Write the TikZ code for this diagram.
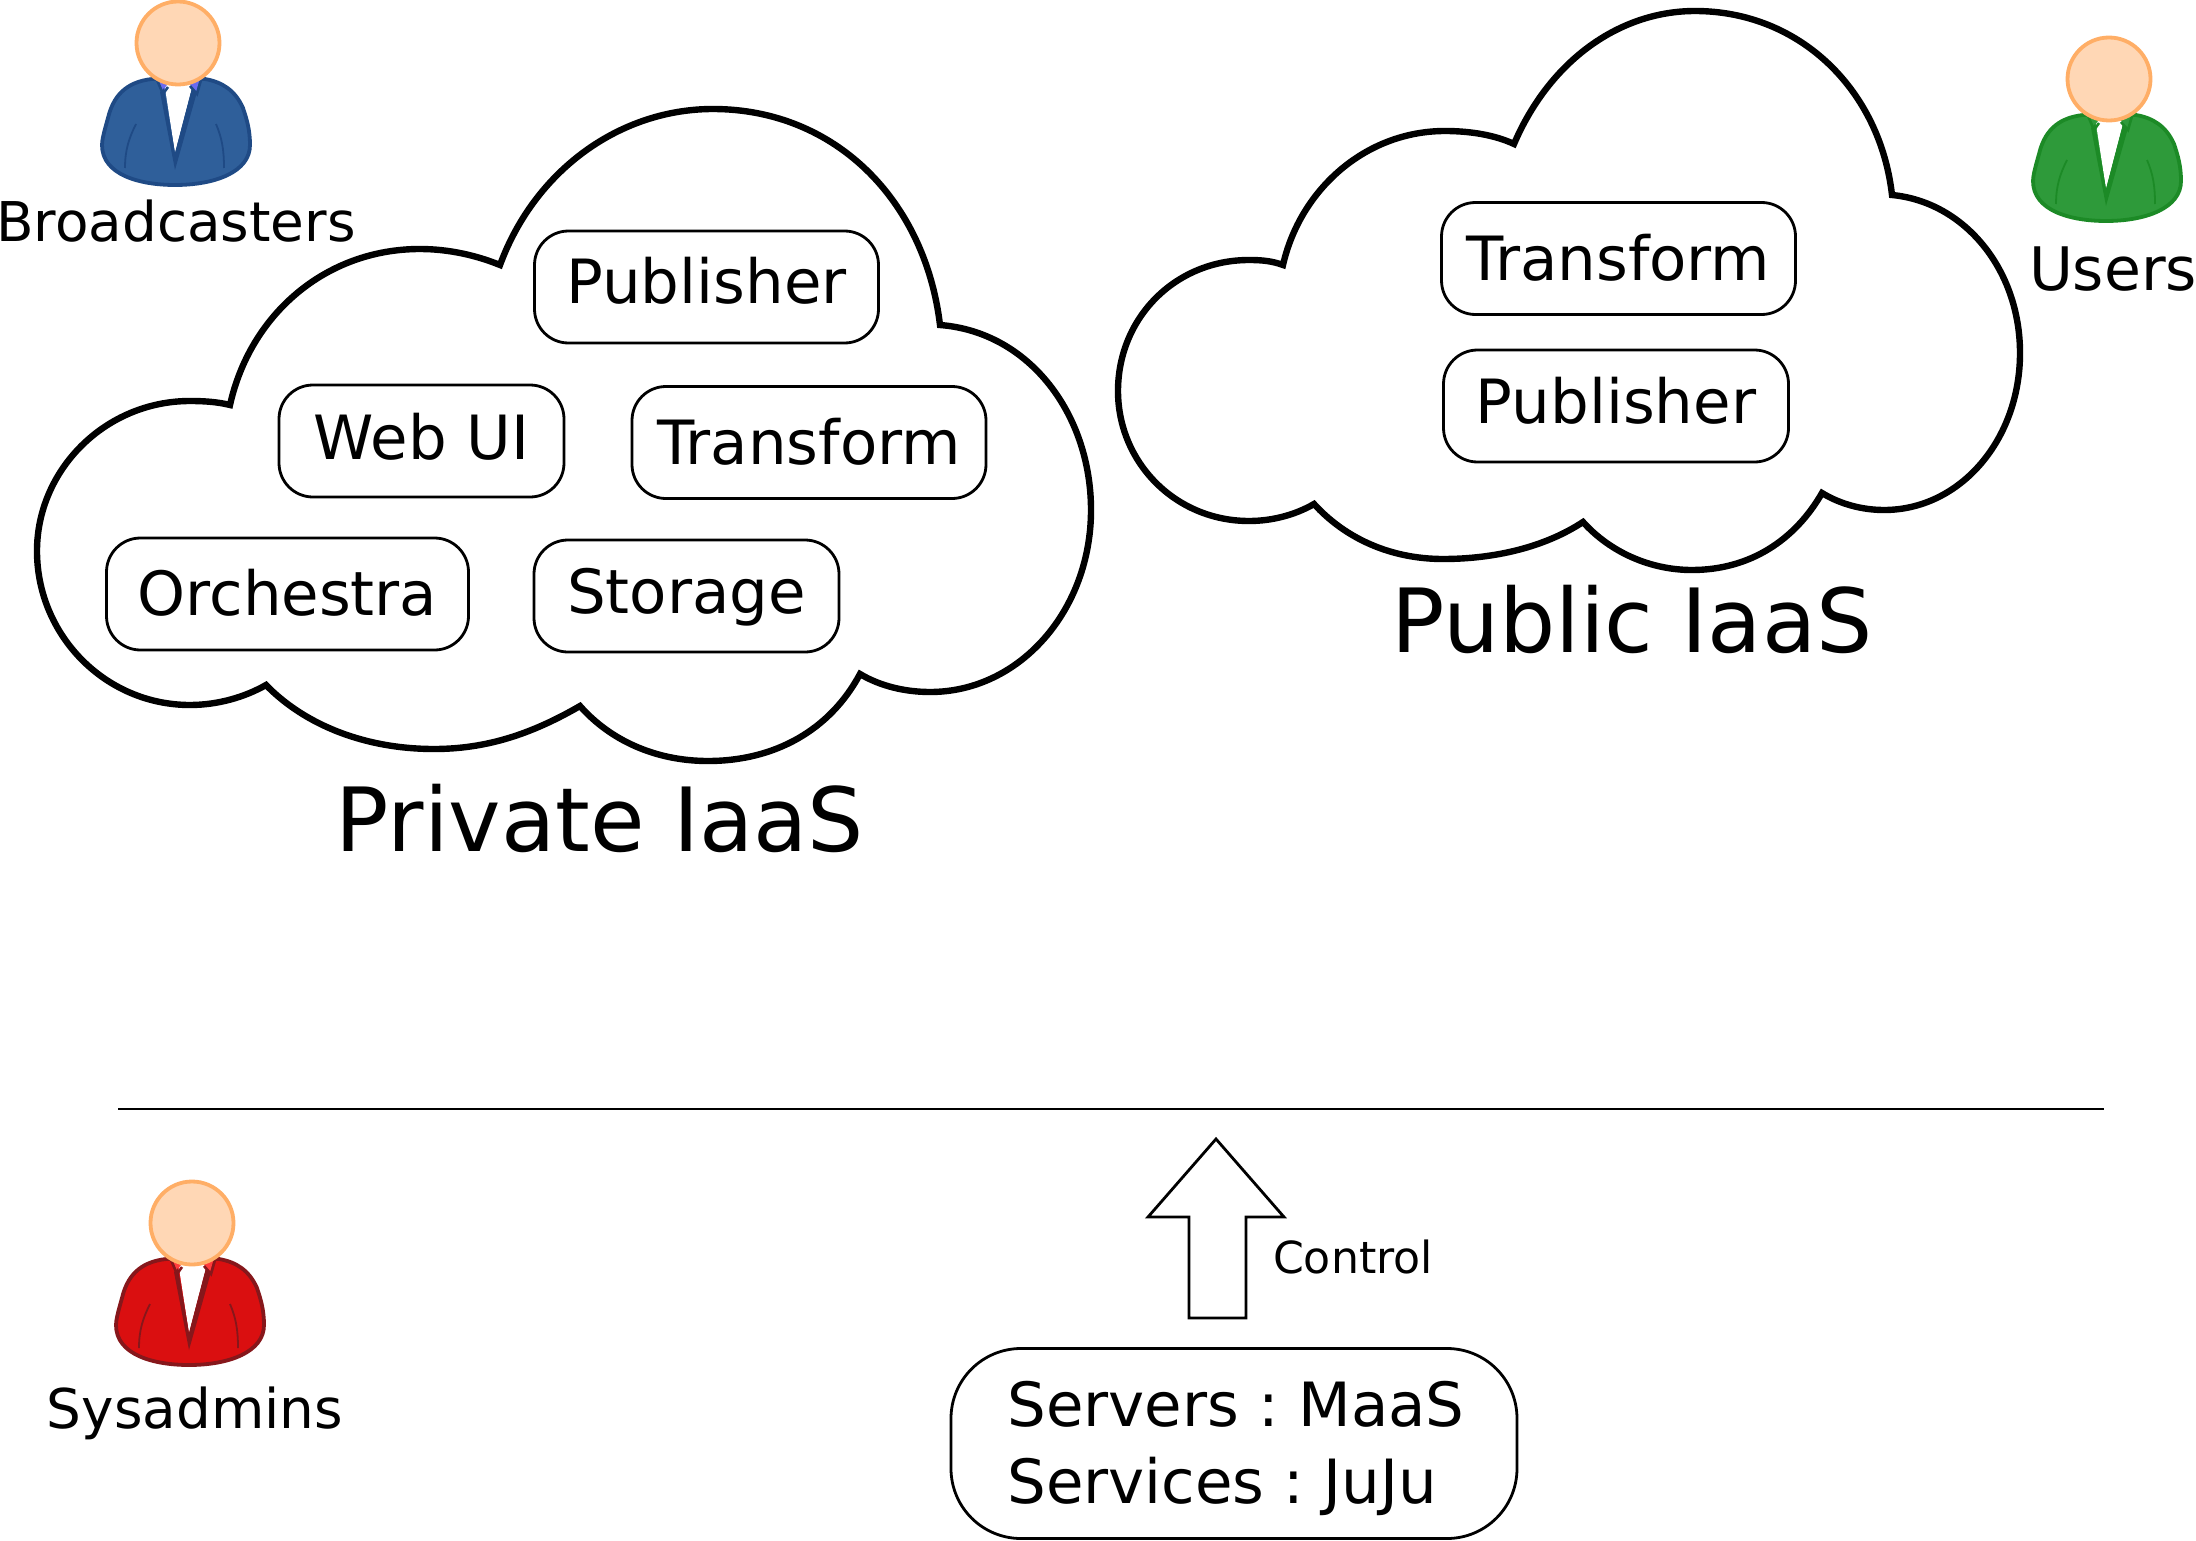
\documentclass[tikz,border=0pt]{standalone}
\usepackage{fontspec}
\setmainfont{DejaVu Sans}
\AtBeginDocument{\frenchspacing}
\tikzset{
  cloudline/.style={line width=3.2pt,draw=black,fill=white,line join=miter},
  svc/.style={draw=black,fill=white,line width=1.4pt,rounded corners=17pt,inner sep=0pt,
    text height=18pt,text depth=0pt,minimum height=56pt,font=\fontsize{30.5}{36}\selectfont},
  lab/.style={anchor=base,inner sep=0pt,font=\fontsize{27.4}{32}\selectfont},
  biglab/.style={anchor=base,inner sep=0pt,font=\fontsize{44.3}{52}\selectfont},
  ctrl/.style={draw=black,fill=white,line width=1.4pt,rounded corners=35pt,inner sep=0pt,align=left,
    minimum width=283pt,minimum height=95pt,font=\fontsize{30.5}{38.5}\selectfont},
}
\definecolor{headfill}{HTML}{FFD7B5}
\definecolor{headline}{HTML}{FFAE66}
\definecolor{bluefill}{HTML}{2F5F9A}
\definecolor{blueline}{HTML}{1F4A85}
\definecolor{bluecollar}{HTML}{6A6AF0}
\definecolor{greenfill}{HTML}{2E9A3A}
\definecolor{greenline}{HTML}{1C8A26}
\definecolor{greencollar}{HTML}{2E9A3A}
\definecolor{redfill}{HTML}{DA0F10}
\definecolor{redline}{HTML}{86171B}
\definecolor{redcollar}{HTML}{FF3B3B}
\newcommand{\personfig}[5]{%
\begin{scope}[shift={(#1,#2)}]
  \draw[draw=#4,fill=#3,line width=1.9pt]
    (152,79) .. controls (125,82) and (113,97) .. (108,118)
    .. controls (104,132) and (102,140) .. (102,145)
    .. controls (102,175) and (140,185) .. (175,185)
    .. controls (215,185) and (250,172) .. (250,145)
    .. controls (250,130) and (247,120) .. (243,108)
    .. controls (235,90) and (222,82) .. (205,79) -- cycle;
  \fill[#5] (158,78) -- (163,92) -- (170,84) -- (172,78) -- cycle;
  \fill[#5] (200,78) -- (196,92) -- (189,84) -- (186,78) -- cycle;
  \fill[white] (165,88) -- (172,78) -- (186,78) -- (192,88) -- (175,153) -- cycle;
  \fill[#4] (160,92) -- (164,88) -- (175,153) -- (192,88) -- (197,92) -- (175,170) -- cycle;
  \draw[#4,line width=1.3pt,line join=miter] (157,80) -- (163,94) -- (168,87);
  \draw[#4,line width=1.3pt,line join=miter] (201,80) -- (197,94) -- (190,86);
  \draw[#4,line width=0.9pt] (136,124) .. controls (129,138) and (125,150) .. (125,168);
  \draw[#4,line width=0.9pt] (216,124) .. controls (222,138) and (224,150) .. (224,168);
  \draw[draw=headline,fill=headfill,line width=1.9pt] (178,43) circle[radius=41.5];
\end{scope}}
\begin{document}
\begin{tikzpicture}[x=0.5pt,y=-0.5pt]
\useasboundingbox (0,0) rectangle (2196,1541);
\fill[white] (0,0) rectangle (2196,1541);
% private cloud
\draw[cloudline] (500,265) .. controls (535,170) and (620,109) .. (713,109)
  .. controls (835,109) and (925,200) .. (940,325)
  .. controls (1030,332) and (1091,415) .. (1091,510)
  .. controls (1091,610) and (1020,692) .. (930,692)
  .. controls (905,692) and (880,686) .. (860,674)
  .. controls (830,730) and (775,761) .. (708,761)
  .. controls (655,761) and (610,740) .. (580,706)
  .. controls (530,735) and (485,749) .. (434,749)
  .. controls (365,749) and (305,725) .. (266,685)
  .. controls (245,697) and (218,705) .. (190,705)
  .. controls (105,705) and (37,635) .. (37,551)
  .. controls (37,470) and (105,401) .. (190,401)
  .. controls (205,401) and (218,402) .. (230,405)
  .. controls (250,315) and (325,249) .. (420,249)
  .. controls (450,249) and (478,256) .. (500,265) -- cycle;
% public cloud
\draw[cloudline] (1514,144) .. controls (1550,60) and (1620,11) .. (1695,11)
  .. controls (1800,11) and (1880,90) .. (1892,195)
  .. controls (1965,202) and (2020,270) .. (2020,353)
  .. controls (2020,440) and (1960,510) .. (1884,510)
  .. controls (1862,510) and (1840,504) .. (1822,493)
  .. controls (1795,540) and (1750,570) .. (1692,570)
  .. controls (1650,570) and (1610,552) .. (1583,522)
  .. controls (1545,547) and (1495,559) .. (1443,559)
  .. controls (1390,559) and (1345,538) .. (1314,504)
  .. controls (1295,515) and (1272,521) .. (1249,521)
  .. controls (1175,521) and (1118,462) .. (1118,391)
  .. controls (1118,318) and (1175,260) .. (1249,260)
  .. controls (1262,260) and (1272,261) .. (1283,265)
  .. controls (1300,190) and (1365,131) .. (1445,131)
  .. controls (1470,131) and (1495,135) .. (1514,144) -- cycle;
% services
\node[svc,text height=16.5pt,minimum width=172pt] (pub1) at (706.5,287) {Publisher};
\node[svc,minimum width=142.5pt] (web) at (421.5,441) {Web UI};
\node[svc,text height=22pt,minimum width=177pt] (tr1) at (809,442.5) {Transform};
\node[svc,text height=21pt,minimum width=181pt] (orc) at (287.5,594) {Orchestra};
\node[svc,text height=17pt,minimum width=152.5pt] (sto) at (686.5,596) {Storage};
\node[svc,text height=22pt,minimum width=177pt] (tr2) at (1618.5,258.5) {Transform};
\node[svc,text height=17pt,minimum width=172.5pt] (pub2) at (1616,406) {Publisher};
% labels
\node[biglab] (priv) at (600,851) {Private IaaS};
\node[biglab] (publ) at (1632,652) {Public IaaS};
\node[lab] (bro) at (176,242) {Broadcasters};
\node[lab,font=\fontsize{30}{36}\selectfont] (usr) at (2113,290) {Users};
\node[lab] (sys) at (195,1428) {Sysadmins};
% persons
\personfig{0}{0}{bluefill}{blueline}{bluecollar}
\personfig{1931}{36}{greenfill}{greenline}{greencollar}
\personfig{14}{1180}{redfill}{redline}{redcollar}
% separator
\draw[line width=1pt] (118,1109) -- (2104,1109);
% control arrow
\draw[line width=1.4pt,fill=white,line join=miter] (1216,1139) -- (1284,1217) -- (1246,1217) -- (1246,1318) -- (1189,1318) -- (1189,1217) -- (1148,1217) -- cycle;
\node[anchor=base,inner sep=0pt,font=\fontsize{22.1}{26}\selectfont] (ctl) at (1353,1273) {Control};
\node[ctrl] (mgmt) at (1234,1443.5) {\vrule height 28pt width 0pt\relax\hspace*{2pt}Servers : MaaS\\\hspace*{2pt}Services : JuJu};
\end{tikzpicture}
\end{document}
